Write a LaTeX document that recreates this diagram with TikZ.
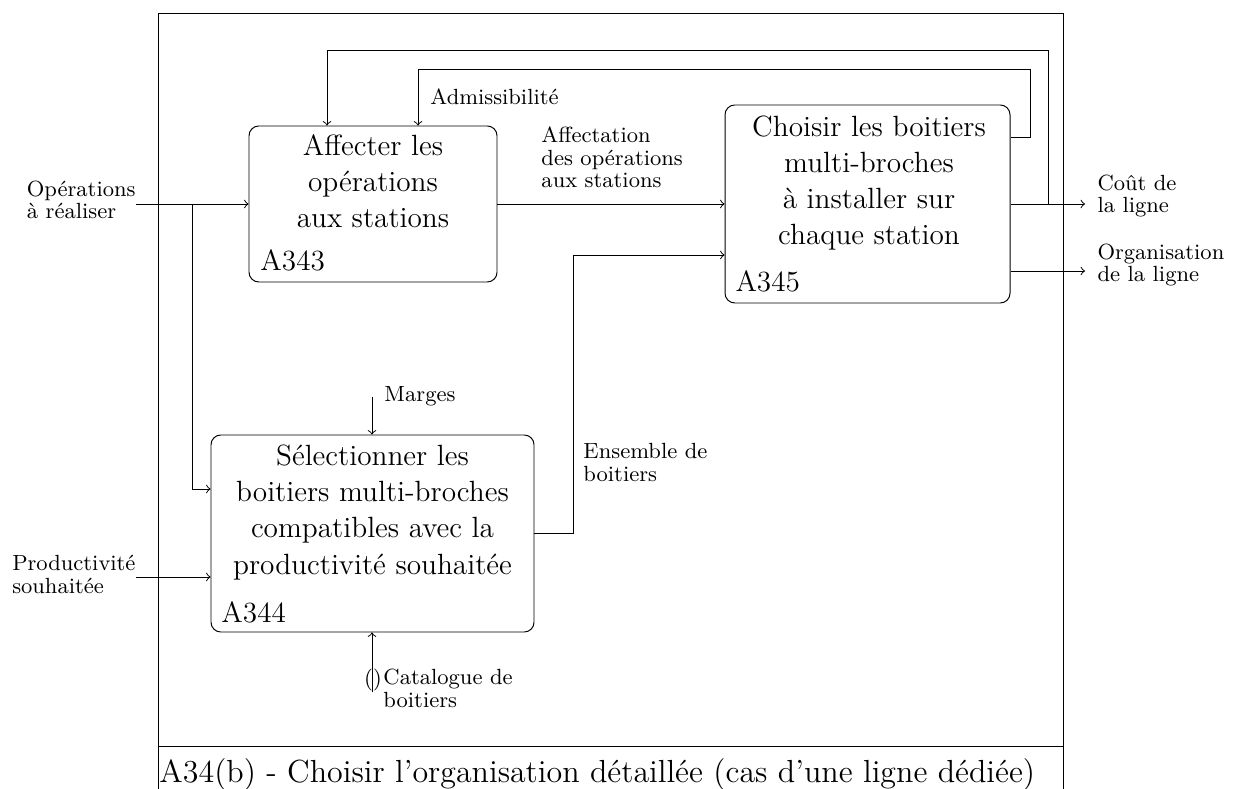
\documentclass[tikz,border=0pt]{standalone}
\usepackage{fontspec}
\begin{document}
\begin{tikzpicture}[x=0.41pt,y=-0.41pt,
  box/.style={draw,rounded corners=4pt,inner sep=0pt},
  boxtext/.style={font=\fontsize{12}{14.8}\selectfont,align=center,inner sep=0pt,anchor=base},
  idtext/.style={font=\large,inner sep=0pt,anchor=base west},
  lab/.style={font=\fontsize{9}{9.3}\selectfont,align=left,inner sep=0pt,anchor=base west},
  >=to]
\useasboundingbox (0,0) rectangle (1234,789);
% frame
\draw (158,13) rectangle (1063,820);
\draw (158,746) -- (1063,746);
\node[font=\fontsize{13.1}{16}\selectfont,inner sep=0pt,anchor=base west] (title) at (159,782) {A34(b) - Choisir l'organisation détaillée (cas d'une ligne dédiée)};
% boxes
\node[box,minimum width=248*0.41pt,minimum height=156*0.41pt] (a343) at (373,204) {};
\node[box,minimum width=285*0.41pt,minimum height=198*0.41pt] (a345) at (867.5,204) {};
\node[box,minimum width=323*0.41pt,minimum height=197*0.41pt] (a344) at (372.5,533.5) {};
\node[boxtext] (t343) at (373,228) {Affecter les\\opérations\\aux stations};
\node[boxtext] (t345) at (869,245) {Choisir les boitiers\\multi-broches\\à installer sur\\chaque station};
\node[boxtext] (t344) at (372.5,574) {Sélectionner les\\boitiers multi-broches\\compatibles avec la\\productivité souhaitée};
\node[idtext] (id343) at (260,271) {A343};
\node[idtext] (id345) at (735,292) {A345};
\node[idtext] (id344) at (221,622) {A344};
% inputs
\coordinate (in1) at (136,204);
\coordinate (br) at (192,204);
\coordinate (in2) at (136,577);
\coordinate (in3) at (372,397);
\coordinate (in4) at (372,692);
\node[lab,anchor=base east] (l1) at (136,219) {Opérations\\à réaliser};
\node[lab,anchor=base east] (l2) at (136,593) {Productivité\\souhaitée};
\node[lab] (l3) at (384,402) {Marges};
\node[lab] (l4) at (383,707) {Catalogue de\\boitiers};
\node[font=\fontsize{9}{9.3}\selectfont,inner sep=0pt,anchor=base] (tun) at (373,685) {()};
\draw[->] (in1) -- (in1 -| a343.west);
\draw[->] (br) |- (a344.west |- 0,489);
\draw[->] (in2) -- (in2 -| a344.west);
\draw[->] (in3) -- (in3 |- a344.north);
\draw[->] (in4) -- (in4 |- a344.south);
% internal
\draw[->] (a343.east) -- (a345.west);
\node[lab] (l5) at (541,188) {Affectation\\des opérations\\aux stations};
\draw[->] (a344.east) -| (573,255) -- (a345.west |- 0,255);
\node[lab] (l6) at (583,481) {Ensemble de\\boitiers};
% outputs
\coordinate (out1) at (1085,204);
\coordinate (out2) at (1085,271);
\draw[->] (a345.east |- out1) -- (out1);
\draw[->] (a345.east |- out2) -- (out2);
\node[lab] (l7) at (1097,213) {Coût de\\la ligne};
\node[lab] (l8) at (1097,282) {Organisation\\de la ligne};
% feedback
\coordinate (fb1) at (1030,69);
\coordinate (fb2) at (1048,204);
\draw[->] (a345.east |- 0,137) -| (fb1) -| (a343.north -| 418,0);
\draw[->] (fb2) |- (327,50) -| (a343.north -| 327,0);
\node[lab] (l9) at (430,105) {Admissibilité};
\end{tikzpicture}
\end{document}
